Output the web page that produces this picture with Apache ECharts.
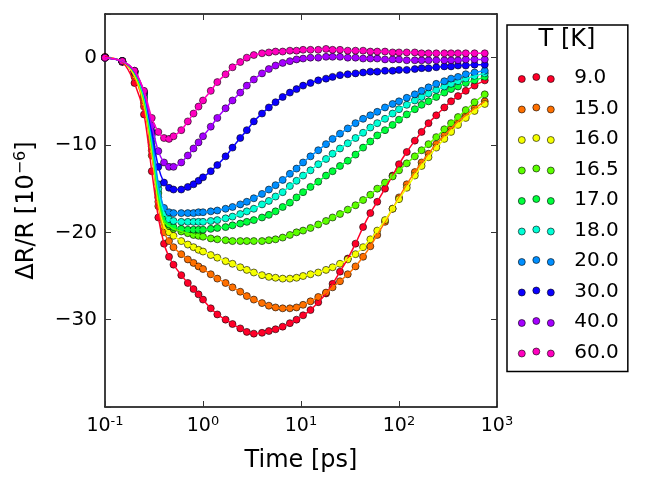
<!DOCTYPE html>
<html><head><meta charset="utf-8">
<script src="https://cdn.jsdelivr.net/npm/echarts@6/dist/echarts.min.js"></script>
<style>html,body{margin:0;padding:0;background:#fff}#c{width:645px;height:489px}</style>
</head><body><div id="c"></div>
<script>
const times = [0.1, 0.15, 0.2, 0.25, 0.3, 0.35, 0.4, 0.45, 0.5, 0.6, 0.7, 0.8, 0.9, 1.0, 1.2, 1.4, 1.7, 2.0, 2.4, 2.8, 3.3, 4.0, 4.7, 5.5, 6.5, 7.7, 9, 10.5, 12.5, 15, 18, 21, 25, 30, 36, 43, 51, 60, 72, 86, 100, 120, 145, 170, 200, 240, 290, 340, 400, 480, 590, 750];
const temps = ['9.0', '15.0', '16.0', '16.5', '17.0', '18.0', '20.0', '30.0', '40.0', '60.0'];
const colors = ['#ff0029', '#ff7000', '#f5ff00', '#5cff00', '#00ff3d', '#00ffd6', '#008fff', '#0b00ff', '#a500ff', '#ff00bf'];
const yTicks = [0, -10, -20, -30];
const xTicks = [0.1, 1, 10, 100, 1000];

const v9_0  = [0.1,-0.5,-2.9,-6.5,-13.0,-18.3,-21.3,-22.8,-23.7,-24.9,-25.8,-26.5,-27.1,-27.7,-28.7,-29.4,-30.0,-30.5,-31.0,-31.4,-31.6,-31.5,-31.3,-31.1,-30.8,-30.4,-30.0,-29.5,-28.9,-28.0,-27.0,-25.9,-24.5,-23.0,-21.3,-19.4,-17.8,-16.5,-15.0,-13.5,-12.2,-10.8,-9.5,-8.5,-7.5,-6.6,-5.7,-5.0,-4.4,-3.8,-3.2,-2.6];
const v15_0 = [0.0,-0.4,-2.2,-5.6,-11.2,-17.0,-20.0,-21.0,-21.7,-22.5,-23.1,-23.5,-23.9,-24.2,-24.8,-25.3,-25.8,-26.3,-26.8,-27.3,-27.7,-28.1,-28.4,-28.6,-28.7,-28.7,-28.6,-28.3,-27.9,-27.4,-26.9,-26.3,-25.6,-24.8,-23.9,-22.8,-21.6,-20.3,-18.8,-17.3,-16.0,-14.5,-13.1,-12.0,-11.0,-9.9,-8.9,-8.1,-7.3,-6.6,-5.8,-5.0];
const v16_0 = [0.0,-0.4,-2.0,-5.2,-10.6,-16.5,-19.3,-20.0,-20.4,-21.0,-21.4,-21.7,-22.0,-22.2,-22.6,-22.9,-23.3,-23.6,-24.0,-24.3,-24.6,-24.9,-25.1,-25.2,-25.3,-25.3,-25.2,-25.0,-24.8,-24.6,-24.3,-24.0,-23.6,-23.1,-22.5,-21.7,-20.8,-19.8,-18.6,-17.3,-16.2,-14.9,-13.5,-12.4,-11.4,-10.3,-9.3,-8.5,-7.7,-6.9,-6.1,-5.3];
const v16_5 = [0.0,-0.4,-1.8,-4.9,-10.2,-16.0,-18.8,-19.3,-19.6,-19.9,-20.1,-20.3,-20.4,-20.5,-20.7,-20.8,-20.9,-21.0,-21.0,-21.0,-21.0,-21.0,-20.9,-20.8,-20.6,-20.3,-20.0,-19.8,-19.5,-19.1,-18.7,-18.3,-17.9,-17.4,-16.9,-16.3,-15.7,-15.0,-14.3,-13.6,-12.9,-12.1,-11.3,-10.6,-9.9,-9.1,-8.2,-7.5,-6.8,-6.0,-5.1,-4.2];
const v17_0 = [0.0,-0.4,-1.7,-4.6,-9.7,-15.5,-18.5,-19.1,-19.4,-19.6,-19.7,-19.7,-19.7,-19.7,-19.6,-19.5,-19.4,-19.2,-19.0,-18.8,-18.6,-18.3,-18.0,-17.6,-17.1,-16.6,-16.0,-15.4,-14.8,-14.2,-13.5,-13.0,-12.4,-11.8,-11.1,-10.3,-9.6,-8.9,-8.3,-7.7,-7.1,-6.5,-5.9,-5.4,-5.0,-4.5,-4.0,-3.6,-3.3,-2.9,-2.6,-2.2];
const v18_0 = [0.0,-0.4,-1.6,-4.4,-9.3,-15.0,-17.8,-18.5,-18.7,-18.8,-18.8,-18.8,-18.8,-18.8,-18.7,-18.6,-18.4,-18.2,-17.9,-17.6,-17.3,-16.8,-16.4,-15.9,-15.4,-14.7,-14.1,-13.5,-12.9,-12.2,-11.6,-11.0,-10.4,-9.8,-9.2,-8.6,-8.0,-7.5,-7.0,-6.4,-5.9,-5.4,-4.9,-4.5,-4.1,-3.7,-3.3,-3.0,-2.7,-2.4,-2.1,-1.8];
const v20_0 = [0.0,-0.4,-1.6,-4.1,-8.9,-14.5,-17.2,-17.7,-17.8,-17.8,-17.8,-17.8,-17.7,-17.7,-17.6,-17.5,-17.3,-17.1,-16.8,-16.5,-16.1,-15.6,-15.1,-14.6,-14.0,-13.3,-12.7,-12.0,-11.3,-10.6,-9.9,-9.3,-8.7,-8.1,-7.5,-7.0,-6.6,-6.2,-5.7,-5.3,-5.0,-4.6,-4.2,-3.8,-3.4,-3.0,-2.7,-2.4,-2.2,-1.9,-1.7,-1.5];
const v30_0 = [0.0,-0.4,-1.6,-4.0,-8.5,-12.5,-14.3,-14.9,-15.1,-15.1,-14.8,-14.5,-14.1,-13.7,-13.0,-12.3,-11.3,-10.3,-9.2,-8.3,-7.3,-6.4,-5.7,-5.1,-4.5,-4.0,-3.6,-3.2,-2.9,-2.6,-2.4,-2.2,-2.0,-1.9,-1.8,-1.7,-1.6,-1.6,-1.5,-1.5,-1.4,-1.4,-1.3,-1.2,-1.2,-1.1,-1.0,-1.0,-0.9,-0.9,-0.8,-0.8];
const v40_0 = [0.0,-0.4,-1.5,-4.0,-7.8,-10.7,-12.0,-12.5,-12.5,-12.0,-11.2,-10.4,-9.7,-9.0,-7.9,-6.9,-5.8,-4.9,-4.0,-3.2,-2.5,-1.8,-1.3,-0.9,-0.6,-0.4,-0.2,-0.1,0.0,0.0,0.1,0.1,0.1,0.0,0.0,-0.1,-0.1,-0.1,-0.2,-0.2,-0.2,-0.3,-0.3,-0.3,-0.3,-0.3,-0.3,-0.3,-0.3,-0.2,-0.2,-0.2];
const v60_0 = [0.0,-0.4,-1.5,-3.8,-6.9,-8.5,-9.2,-9.3,-9.0,-8.3,-7.3,-6.4,-5.6,-4.9,-3.8,-2.8,-1.9,-1.1,-0.5,0.0,0.3,0.5,0.6,0.7,0.7,0.8,0.8,0.9,0.9,0.9,1.0,0.9,0.9,0.8,0.8,0.8,0.7,0.7,0.7,0.6,0.6,0.6,0.6,0.5,0.5,0.5,0.5,0.5,0.5,0.5,0.5,0.5];
const values = [v9_0, v15_0, v16_0, v16_5, v17_0, v18_0, v20_0, v30_0, v40_0, v60_0];

const FONT = 'DejaVu Sans';
const chart = echarts.init(document.getElementById('c'), null, {renderer: 'canvas'});

const series = [];
temps.forEach((name, i) => {
  const pts = times.map((t, k) => [t, values[i][k]]);
  series.push({
    name: name, type: 'scatter', data: pts, symbol: 'circle', symbolSize: 7, z: 2,
    itemStyle: {color: colors[i], borderColor: '#000', borderWidth: 0.6, opacity: 1}
  });
});
temps.forEach((name, i) => {
  const pts = times.map((t, k) => [t, values[i][k]]);
  series.push({
    name: name + ' fit', type: 'line', data: pts, showSymbol: false, smooth: 0.3, z: 3,
    lineStyle: {color: colors[i], width: 1.5}, silent: true
  });
});

const axisCommon = {
  axisLine: {show: true, onZero: false, lineStyle: {color: '#000', width: 1.5}},
  axisTick: {show: true, inside: true, length: 6, lineStyle: {color: '#333', width: 1}},
  splitLine: {show: false}, minorTick: {show: false}
};

const legendIcon = 'path://M0,5.5a3.5,3.5 0 1,0 7,0a3.5,3.5 0 1,0 -7,0M14.5,3.5a3.5,3.5 0 1,0 7,0a3.5,3.5 0 1,0 -7,0M29,5.5a3.5,3.5 0 1,0 7,0a3.5,3.5 0 1,0 -7,0';

chart.setOption({
  animation: false,
  backgroundColor: '#fff',
  textStyle: {fontFamily: FONT},
  grid: {left: 105, top: 14, right: 148, bottom: 82, containLabel: false},
  title: {text: 'T [K]', left: 567, top: 28, textAlign: 'center', padding: 0, z: 10,
    textStyle: {fontFamily: FONT, fontSize: 24, fontWeight: 'normal', color: '#000'}},
  legend: {
    data: temps, orient: 'vertical', left: 507, top: 25,
    padding: [42, 9, 8, 11], itemGap: 8.5, itemWidth: 36, itemHeight: 9,
    icon: legendIcon, backgroundColor: '#fff', borderColor: '#000', borderWidth: 1.5, borderRadius: 0,
    itemStyle: {borderColor: '#000', borderWidth: 0.6},
    textStyle: {fontFamily: FONT, fontSize: 20, color: '#000', lineHeight: 22, padding: [0, 0, 0, 15]}
  },
  xAxis: [
    Object.assign({}, axisCommon, {
      type: 'log', logBase: 10, min: 0.1, max: 1000, position: 'bottom',
      name: 'Time [ps]', nameLocation: 'middle', nameGap: 42,
      nameTextStyle: {fontFamily: FONT, fontSize: 24, color: '#000'},
      axisLabel: {
        show: true, margin: 8, color: '#000',
        formatter: v => {
          const e = Math.round(Math.log10(v));
          if (!xTicks.some(t => Math.abs(Math.log10(t) - e) < 1e-6)) return '';
          return '{b|10}{s|' + (e < 0 ? '-' + (-e) : e) + '}';
        },
        rich: {b: {fontFamily: FONT, fontSize: 19, color: '#000'},
               s: {fontFamily: FONT, fontSize: 13, color: '#000', padding: [0, 0, 10, 0]}}
      }
    }),
    Object.assign({}, axisCommon, {
      type: 'log', logBase: 10, min: 0.1, max: 1000, position: 'top',
      axisLabel: {show: false}
    })
  ],
  yAxis: [
    Object.assign({}, axisCommon, {
      type: 'value', min: -40, max: 5, interval: 10, position: 'left',
      name: '{a|ΔR/R [10}{s|−6}{a|]}', nameLocation: 'middle', nameGap: 64, nameRotate: 90,
      nameTextStyle: {rich: {a: {fontFamily: FONT, fontSize: 24, color: '#000'},
        s: {fontFamily: FONT, fontSize: 16, color: '#000', padding: [0, 0, 12, 0]}}},
      axisLabel: {
        show: true, margin: 8, color: '#000', fontFamily: FONT, fontSize: 20,
        formatter: v => yTicks.includes(v) ? (v < 0 ? '\u2212' + (-v) : String(v)) : ''
      }
    }),
    Object.assign({}, axisCommon, {
      type: 'value', min: -40, max: 5, interval: 10, position: 'right',
      axisLabel: {show: false}
    })
  ],
  series: series
});
</script></body></html>
